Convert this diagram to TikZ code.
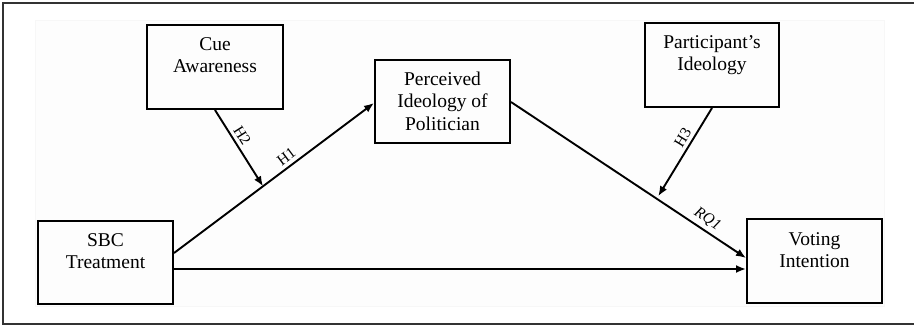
\documentclass[tikz,border=0pt]{standalone}
\usepackage{fontspec}
\setmainfont{Liberation Serif}
\usetikzlibrary{arrows.meta,calc}
\tikzset{
  box/.style={draw=black, line width=2pt, minimum width=135pt, minimum height=84pt, inner sep=0pt},
  boxtext/.style={anchor=north, inner sep=0pt, align=center, font=\fontsize{19.5}{22.5}\selectfont},
  conn/.style={line width=1.9pt, -{Latex[length=10pt,width=8pt]}},
  hlab/.style={font=\fontsize{15.5}{17}\selectfont, inner sep=3.5pt, sloped}
}
\begin{document}
\begin{tikzpicture}[x=1pt,y=-1pt]
\useasboundingbox (0,0) rectangle (914,326);
\fill[white] (0,0) rectangle (914,326);
\draw[black!80, line width=1.6pt] (915,3) -- (3,3) -- (3,324) -- (915,324);
\draw[fill=black!0.6, draw=black!3, line width=0.8pt] (35,20) rectangle (884,306);

\node[box, minimum width=136pt] (cue) at (215,67) {};
\node[boxtext, name=cuet] at ($(cue.north)+(0,13)$) {Cue\\Awareness};
\node[box, minimum height=83pt] (perc) at (442.5,101.5) {};
\node[boxtext, name=perct] at ($(perc.north)+(0,12.5)$) {Perceived\\Ideology of\\Politician};
\node[box, minimum width=134pt] (part) at (712,65) {};
\node[boxtext, name=partt] at ($(part.north)+(0,13)$) {Participant’s\\Ideology};
\node[box] (vote) at (814.5,261) {};
\node[boxtext, name=votet] at ($(vote.north)+(0,14)$) {Voting\\Intention};
\node[box, minimum height=83pt] (sbc) at (105.5,262.5) {};
\node[boxtext, name=sbct] at ($(sbc.north)+(0,13)$) {SBC\\Treatment};

\coordinate (s1) at ($(sbc.east)+(0,-9.5)$);
\coordinate (e1) at ($(perc.west)+(0,1.5)$);
\coordinate (s2) at ($(perc.east)+(0,0.5)$);
\coordinate (e2) at ($(vote.west)+(0,-3)$);
\coordinate (m1) at ($(s1)!0.445!(e1)$);
\coordinate (m2) at ($(s2)!0.62!(e2)$);

\draw[conn] (s1) -- node[hlab, pos=0.59, above, name=h1] {H1} (e1);
\draw[conn] ($(sbc.east)+(0,6.5)$) -- ($(vote.west)+(0,8)$);
\draw[conn] (s2) -- node[hlab, pos=0.81, above, name=rq1, font=\fontsize{15.5}{17}\selectfont\itshape] {RQ1} (e2);
\draw[conn] (cue.south) -- node[hlab, pos=0.4, above, name=h2] {H2} (m1);
\draw[conn, shorten >=3pt] (part.south) -- node[hlab, pos=0.38, above, name=h3] {H3} (m2);
\end{tikzpicture}
\end{document}
